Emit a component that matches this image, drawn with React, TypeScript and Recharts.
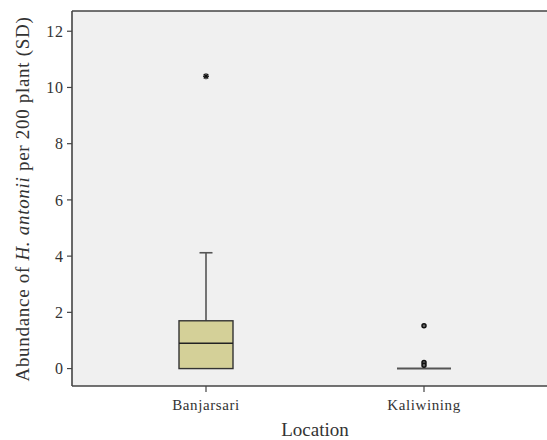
import React from 'react'
import { ComposedChart, Bar, Scatter, XAxis, YAxis, CartesianGrid, ReferenceLine, Label } from 'recharts'

const locations = ['Banjarsari', 'Kaliwining']
const lowerWhisker = [0, 0]
const q1 = [0, 0]
const median = [0.9, 0]
const q3 = [1.7, 0]
const upperWhisker = [4.12, 0]

const outlierLocation = ['Banjarsari', 'Kaliwining', 'Kaliwining', 'Kaliwining']
const outlierValue = [10.4, 1.52, 0.22, 0.12]
const outlierKind = ['extreme', 'outlier', 'outlier', 'outlier']

const yTicks = [0, 2, 4, 6, 8, 10, 12]
const yMin = -0.62
const yMax = 12.72

const boxData = locations.map((loc, i) => ({
  loc,
  box: [q1[i], q3[i]],
  lo: lowerWhisker[i],
  med: median[i],
  hi: upperWhisker[i],
}))

const outliers = outlierLocation.map((loc, i) => ({ loc, value: outlierValue[i], kind: outlierKind[i] }))

const ink = '#333'
const serif = '"Liberation Serif", "DejaVu Serif", serif'

function BoxShape(props: any) {
  const { x, y, width, height, payload } = props
  const cx = x + width / 2
  const range = payload.box[1] - payload.box[0]
  if (!(range > 0)) {
    return <line x1={x} x2={x + width} y1={y} y2={y} stroke="#555" strokeWidth={2} />
  }
  const px = height / range
  const yMed = y + (payload.box[1] - payload.med) * px
  const yHi = y - (payload.hi - payload.box[1]) * px
  const yLo = y + height + (payload.box[0] - payload.lo) * px
  return (
    <g>
      <line x1={cx} x2={cx} y1={yHi} y2={y} stroke="#555" strokeWidth={1.6} />
      <line x1={cx - 6.5} x2={cx + 6.5} y1={yHi} y2={yHi} stroke="#555" strokeWidth={1.6} />
      {yLo > y + height + 0.5 && (
        <>
          <line x1={cx} x2={cx} y1={y + height} y2={yLo} stroke="#555" strokeWidth={1.6} />
          <line x1={cx - 6.5} x2={cx + 6.5} y1={yLo} y2={yLo} stroke="#555" strokeWidth={1.6} />
        </>
      )}
      <rect x={x} y={y} width={width} height={height} fill="#d4d098" stroke="#333" strokeWidth={1.4} />
      <line x1={x} x2={x + width} y1={yMed} y2={yMed} stroke="#222" strokeWidth={1.6} />
    </g>
  )
}

function OutlierShape(props: any) {
  const { cx, cy, payload } = props
  if (payload.kind === 'extreme') {
    return (
      <g stroke="#111" strokeWidth={1.3}>
        <line x1={cx - 3} x2={cx + 3} y1={cy} y2={cy} />
        <line x1={cx} x2={cx} y1={cy - 3} y2={cy + 3} />
        <line x1={cx - 2.2} x2={cx + 2.2} y1={cy - 2.2} y2={cy + 2.2} />
        <line x1={cx - 2.2} x2={cx + 2.2} y1={cy + 2.2} y2={cy - 2.2} />
      </g>
    )
  }
  return <circle cx={cx} cy={cy} r={2} fill="#666" stroke="#111" strokeWidth={1.5} />
}

function YLabel() {
  const cx = 22
  const cy = 199
  return (
    <text
      x={cx}
      y={cy}
      transform={`rotate(-90 ${cx} ${cy})`}
      textAnchor="middle"
      dominantBaseline="central"
      fontFamily={serif}
      fontSize={19}
      letterSpacing={0.7}
      fill={ink}
    >
      Abundance of <tspan fontStyle="italic">H. antonii</tspan> per 200 plant (SD)
    </text>
  )
}

function XLabel(props: any) {
  const vb = props.viewBox || {}
  const cx = vb.x + (vb.width + 25 - 27) / 2
  return (
    <text x={cx} y={436} textAnchor="middle" fontFamily={serif} fontSize={19} fill={ink}>
      Location
    </text>
  )
}

export default function App() {
  return (
    <div style={{ width: 547, height: 440, background: '#fff', overflow: 'hidden' }}>
      <style>{'html,body{margin:0;padding:0;overflow:hidden}'}</style>
      <ComposedChart width={560} height={440} data={boxData} margin={{ top: 11, right: 0, bottom: 0, left: 0 }}>
        <CartesianGrid fill="#f0f0f0" horizontal={false} vertical={false} />
        <XAxis
          dataKey="loc"
          type="category"
          allowDuplicatedCategory={false}
          height={54}
          padding={{ left: 25, right: 27 }}
          axisLine={{ stroke: '#444', strokeWidth: 1.6 }}
          tickLine={{ stroke: '#444', strokeWidth: 1.2 }}
          tickSize={6}
          tickMargin={7}
          tick={{ fill: ink, fontFamily: serif, fontSize: 15, letterSpacing: 0.6 }}
        >
          <Label content={<XLabel />} />
        </XAxis>
        <YAxis
          type="number"
          domain={[yMin, yMax]}
          ticks={yTicks}
          allowDataOverflow
          width={72}
          axisLine={{ stroke: '#444', strokeWidth: 1.6 }}
          tickLine={{ stroke: '#444', strokeWidth: 1.2 }}
          tickSize={5}
          tickMargin={3}
          tick={{ fill: ink, fontFamily: serif, fontSize: 16, letterSpacing: 0.9 }}
        >
          <Label content={<YLabel />} />
        </YAxis>
        <ReferenceLine y={yMax} stroke="#444" strokeWidth={1.6} />
        <Bar dataKey="box" barSize={54} shape={<BoxShape />} isAnimationActive={false} />
        <Scatter data={outliers} dataKey="value" shape={<OutlierShape />} isAnimationActive={false} />
      </ComposedChart>
    </div>
  )
}
